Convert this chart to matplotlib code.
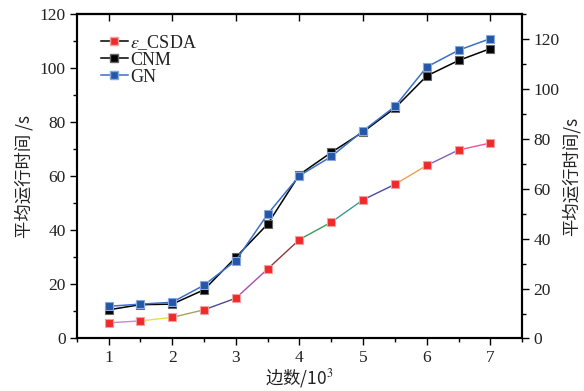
import matplotlib
matplotlib.use("Agg")
import matplotlib.pyplot as plt
from matplotlib.ticker import MultipleLocator
from matplotlib.lines import Line2D

plt.rcParams['font.family'] = ['Liberation Serif', 'DejaVu Serif']
plt.rcParams['mathtext.fontset'] = 'stix'
plt.rcParams['font.size'] = 12

# ---- data ----
edges = [1, 1.5, 2, 2.5, 3, 3.5, 4, 4.5, 5, 5.5, 6, 6.5, 7]
csda = [5.8, 6.5, 7.8, 10.6, 14.9, 25.7, 36.6, 43.0, 51.3, 57.0, 64.0, 69.7, 72.3]
cnm = [10.6, 12.5, 12.7, 18.0, 30.0, 42.3, 60.6, 68.8, 76.4, 85.2, 97.1, 102.8, 107.2]
gn = [11.9, 12.7, 13.4, 19.7, 28.8, 46.0, 60.2, 67.3, 76.8, 85.8, 100.4, 106.6, 110.9]
labels = [r'$\varepsilon$_CSDA', 'CNM', 'GN']
xticks = [1, 2, 3, 4, 5, 6, 7]
yticks_left = [0, 20, 40, 60, 80, 100, 120]
yticks_right = [0, 20, 40, 60, 80, 100, 120]
seg_colors = ['#c98ac9', '#e8e040', '#a8a060', '#4a4a90', '#a050b0', '#8a3a3a',
              '#3f9a5a', '#3a9a98', '#4a4aa0', '#f0a050', '#8060c0', '#f050a0']

fig = plt.figure(figsize=(5.84, 3.91), dpi=100)
ax = fig.add_axes([0.1313, 0.1343, 0.763, 0.8300])

txt = '#222222'
red_face, red_edge = '#ee2a2a', '#f5a0a0'
blue_face, blue_edge = '#2457a8', '#86a8dc'
blue_line = '#3a70c8'

# red series: multicolored segments
for i in range(len(edges) - 1):
    ax.plot(edges[i:i + 2], csda[i:i + 2], color=seg_colors[i], lw=1.0, zorder=2)
ax.plot(edges, csda, ls='none', marker='s', ms=5.6, mfc=red_face, mec=red_edge, mew=0.8, zorder=5)

ax.plot(edges, cnm, color='black', lw=1.1, marker='s', ms=5.6, mfc='black', mec='#666666',
        mew=0.8, zorder=3)
ax.plot(edges, gn, color=blue_line, lw=1.1, marker='s', ms=5.6, mfc=blue_face, mec=blue_edge,
        mew=0.8, zorder=4)

ax.set_xlim(0.5, 7.5)
ax.set_ylim(0, 119.6)
ax.set_xticks(xticks)
ax.set_xticklabels([str(v) for v in xticks])
ax.xaxis.set_minor_locator(MultipleLocator(0.5))
ax.set_yticks(yticks_left)
ax.yaxis.set_minor_locator(MultipleLocator(10))

for s in ax.spines.values():
    s.set_linewidth(1.5)
    s.set_color('black')

ax.tick_params(axis='both', which='major', direction='out', length=5, width=1, labelcolor=txt,
               labelsize=12.5, pad=3)
ax.tick_params(axis='both', which='minor', direction='out', length=3, width=1)
ax.yaxis.get_major_ticks()[0].tick1line.set_color('#ee2a2a')

# top axis: inward major ticks, no labels
top = ax.secondary_xaxis('top')
top.set_xticks(xticks)
top.tick_params(axis='x', which='major', direction='in', length=5, width=1, labeltop=False)
top.tick_params(axis='x', which='minor', length=0)
top.spines['top'].set_linewidth(1.5)

ax2 = ax.twinx()
ax2.set_ylim(0, 130)
ax2.set_yticks(yticks_right)
ax2.yaxis.set_minor_locator(MultipleLocator(10))
ax2.tick_params(axis='y', which='major', direction='out', length=5, width=1, labelcolor=txt,
                labelsize=12.5, pad=3)
ax2.tick_params(axis='y', which='minor', direction='out', length=3, width=1)
for s in ax2.spines.values():
    s.set_linewidth(1.5)
ax2.yaxis.get_major_ticks()[0].tick2line.set_color('#3a70c8')

cjk = ['Noto Sans CJK SC', 'DejaVu Sans']
ax.set_ylabel('平均运行时间 /s', family=cjk, fontsize=12.5, color=txt, labelpad=4, fontweight='light')
ax2.set_ylabel('平均运行时间/s', family=cjk, fontsize=12.5, color=txt, labelpad=2, fontweight='light')
ax.set_xlabel('边数/10$^3$', family=cjk, fontsize=12.5, color=txt, labelpad=1, fontweight='light')

handles = [
    Line2D([], [], color='black', lw=1.1, marker='s', ms=5.6, mfc=red_face, mec=red_edge),
    Line2D([], [], color='black', lw=1.1, marker='s', ms=5.6, mfc='black', mec='#666666'),
    Line2D([], [], color=blue_line, lw=1.1, marker='s', ms=5.6, mfc=blue_face, mec=blue_edge),
]
leg = ax.legend(handles, labels, loc='upper left', bbox_to_anchor=(0.03, 0.975), frameon=False,
                fontsize=13, handlelength=1.5, handletextpad=0.1, labelspacing=0.0,
                borderaxespad=0.2)
for t in leg.get_texts():
    t.set_color(txt)

fig.savefig('out.png', dpi=100)
